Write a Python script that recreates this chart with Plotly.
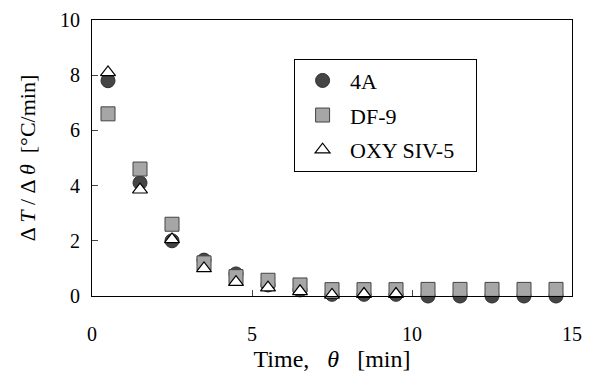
import plotly.graph_objects as go

time_min = [0.5, 1.5, 2.5, 3.5, 4.5, 5.5, 6.5, 7.5, 8.5, 9.5, 10.5, 11.5, 12.5, 13.5, 14.5]
rate_4a = [7.8, 4.1, 2.0, 1.3, 0.8, 0.4, 0.22, 0.06, 0.06, 0.06, 0.0, 0.0, 0.0, 0.0, 0.0]
rate_df9 = [6.6, 4.6, 2.6, 1.2, 0.7, 0.57, 0.4, 0.23, 0.23, 0.23, 0.24, 0.24, 0.24, 0.24, 0.24]
time_oxy = [0.5, 1.5, 2.5, 3.5, 4.5, 5.5, 6.5, 7.5, 8.5, 9.5]
rate_oxy = [8.1, 3.85, 2.05, 1.0, 0.5, 0.3, 0.17, 0.04, 0.07, 0.07]
x_ticks = [0, 5, 10, 15]
y_ticks = [0, 2, 4, 6, 8, 10]

FONT = "Liberation Serif"
NB = "\u00a0"

fig = go.Figure()
fig.add_trace(go.Scatter(
    x=time_min, y=rate_4a, mode="markers", name="4A", legendgroup="a",
    cliponaxis=False,
    marker=dict(symbol="circle", size=14, color="#454545",
                line=dict(color="#2e2e2e", width=1)),
))
fig.add_trace(go.Scatter(
    x=time_min, y=rate_df9, mode="markers", name="DF-9", legendgroup="b",
    cliponaxis=False,
    marker=dict(symbol="square", size=14, color="#a6a6a6",
                line=dict(color="#444444", width=1)),
))
fig.add_trace(go.Scatter(
    x=time_oxy, y=rate_oxy, mode="markers", name="OXY SIV-5" + NB * 3, legendgroup="c",
    cliponaxis=False,
    marker=dict(symbol="triangle-up", size=13, color="white",
                line=dict(color="black", width=1.2)),
))

fig.update_layout(
    width=595, height=379,
    margin=dict(l=92, r=23, t=9, b=83),
    paper_bgcolor="white", plot_bgcolor="white",
    font=dict(family=FONT, size=20, color="black"),
    showlegend=True,
    legend=dict(
        x=0.421, y=0.86, xanchor="left", yanchor="top",
        bordercolor="black", borderwidth=1, bgcolor="white",
        font=dict(family=FONT, size=22),
        tracegroupgap=3, itemwidth=45,
    ),
    xaxis=dict(
        range=[0, 15], tickvals=x_ticks, ticks="inside", ticklen=6,
        showline=True, linecolor="black", linewidth=1, mirror=True,
        showgrid=False, zeroline=False, ticklabelstandoff=20,
        ticklabeloverflow="allow",
        title=dict(text="Time," + NB * 3 + "<i>θ</i>" + NB * 3 + "[min]",
                   font=dict(size=24), standoff=6),
    ),
    yaxis=dict(
        range=[0, 10], tickvals=y_ticks, ticks="inside", ticklen=6,
        showline=True, linecolor="black", linewidth=1, mirror=True,
        showgrid=False, zeroline=False, ticklabelstandoff=7,
        ticklabeloverflow="allow",
        title=dict(text="Δ <i>T</i> / Δ <i>θ</i>" + NB * 2 + "[°C/min]",
                   font=dict(size=22), standoff=18),
    ),
)

fig.write_html("out.html")
